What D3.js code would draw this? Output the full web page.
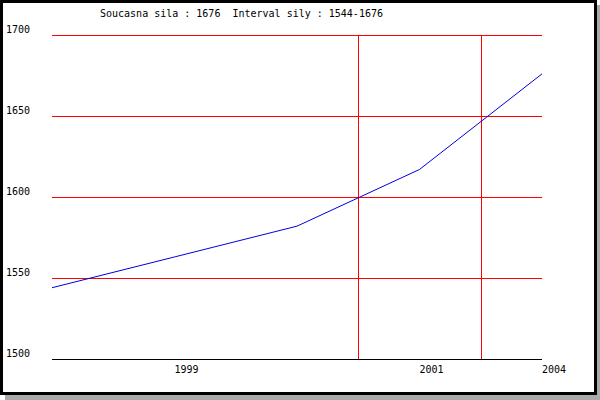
<!DOCTYPE html>
<html>
<head>
<meta charset="utf-8">
<script src="https://cdn.jsdelivr.net/npm/d3@7"></script>
<style>
html,body{margin:0;padding:0;background:#fff;}
svg{display:block;}
text{font-family:"DejaVu Sans Mono","Liberation Mono",monospace;font-size:10px;fill:#000;}
</style>
</head>
<body>
<svg id="chart" width="600" height="400"></svg>
<script>
// data
const categories = ["1998", "1999", "2000", "2001", "2004"];
const xTickLabels = ["", "1999", "", "2001", "2004"];
const values = [1544, 1563, 1582, 1617, 1676];
const yTicks = [1500, 1550, 1600, 1650, 1700];
const vGridAt = [2.5, 3.5];
const titleText = "Soucasna sila : 1676  Interval sily : 1544-1676";

const svg = d3.select("#chart");

// frame with shadow
svg.append("rect").attr("x", 5).attr("y", 5).attr("width", 595).attr("height", 395).attr("fill", "#aaaaaa");
svg.append("rect").attr("x", 0).attr("y", 0).attr("width", 597).attr("height", 395).attr("fill", "#000");
svg.append("rect").attr("x", 3).attr("y", 3).attr("width", 591).attr("height", 389).attr("fill", "#fff");

const x = d3.scaleLinear().domain([0, categories.length - 1]).range([52, 542]);
const y = d3.scaleLinear().domain([1500, 1700]).range([359, 35]);

const g = svg.append("g").attr("shape-rendering", "crispEdges");

// horizontal grid (red), baseline black
g.selectAll("line.h").data(yTicks.filter(v => v !== 1500)).enter().append("line")
  .attr("x1", x(0)).attr("x2", x(categories.length - 1))
  .attr("y1", d => Math.round(y(d)) + 0.5).attr("y2", d => Math.round(y(d)) + 0.5)
  .attr("stroke", "#ff0000").attr("stroke-width", 1);

// vertical grid
g.selectAll("line.v").data(vGridAt).enter().append("line")
  .attr("x1", d => Math.round(x(d)) + 0.5).attr("x2", d => Math.round(x(d)) + 0.5)
  .attr("y1", y(1700)).attr("y2", y(1500))
  .attr("stroke", "#ff0000").attr("stroke-width", 1);

// baseline
g.append("line")
  .attr("x1", x(0)).attr("x2", x(categories.length - 1))
  .attr("y1", Math.round(y(1500)) + 0.5).attr("y2", Math.round(y(1500)) + 0.5)
  .attr("stroke", "#000").attr("stroke-width", 1);

// y labels
svg.selectAll("text.yl").data(yTicks).enter().append("text")
  .attr("x", 6).attr("y", d => y(d) - 2)
  .text(d => d);

// x labels
svg.selectAll("text.xl").data(xTickLabels.map((t, i) => ({t, i})).filter(d => d.t !== "")).enter().append("text")
  .attr("x", d => x(d.i)).attr("y", 373)
  .text(d => d.t);

// line
const line = d3.line().x((d, i) => x(i)).y(d => y(d));
svg.append("path").datum(values)
  .attr("d", line)
  .attr("fill", "none")
  .attr("stroke", "#0000dd")
  .attr("stroke-width", 1);

// title
svg.append("text").attr("x", 100).attr("y", 17).attr("xml:space", "preserve").style("white-space", "pre").text(titleText);
</script>
</body>
</html>
